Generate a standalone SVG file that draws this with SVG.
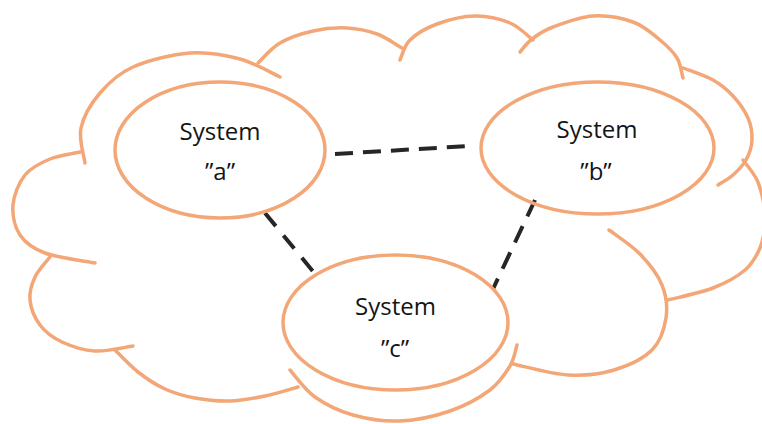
<svg xmlns="http://www.w3.org/2000/svg" width="762" height="424" viewBox="0 0 762 424">
<style>
.cloud{fill:none;stroke:#F3A676;stroke-width:3.5;stroke-linecap:round}
.sys{fill:none;stroke:#F3A676;stroke-width:3.5}
.lbl{font-family:"Open Sans","Liberation Sans",sans-serif;font-size:24px;fill:#141414;text-anchor:middle}
.dash{stroke:#262626;stroke-width:4;fill:none}
</style>
<rect width="762" height="424" fill="#ffffff"/>
<g id="cloud">
<path class="cloud" d="M85,163 C84.3,157.2 78.5,139.7 81,128 C83.5,116.3 91.3,103.2 100,93 C108.7,82.8 118,73.7 133,67 C148,60.3 172.2,54.3 190,53 C207.8,51.7 225,55 240,59 C255,63 273.3,74 280,77"/>
<path class="cloud" d="M258,63 C261.7,59.7 270.8,48.3 280,43 C289.2,37.7 301.8,33.5 313,31 C324.2,28.5 336.3,27.5 347,28 C357.7,28.5 367.8,30.7 377,34 C386.2,37.3 397.8,45.7 402,48"/>
<path class="cloud" d="M400,60 C401.7,56.7 403.8,46 410,40 C416.2,34 426.2,28 437,24 C447.8,20 462.8,16.2 475,16 C487.2,15.8 500.3,19 510,23 C519.7,27 529.2,37.2 533,40"/>
<path class="cloud" d="M520,52 C522,49.8 526.5,43.2 532,39 C537.5,34.8 542.8,30.8 553,27 C563.2,23.2 579.7,16.8 593,16 C606.3,15.2 621.8,18 633,22 C644.2,26 652.7,34 660,40 C667.3,46 673.2,51.7 677,58 C680.8,64.3 682,74.7 683,78"/>
<path class="cloud" d="M683,68 C688,70 704.7,75.3 713,80 C721.3,84.7 727.2,89.7 733,96 C738.8,102.3 744.8,110.7 748,118 C751.2,125.3 752.3,133 752,140 C751.7,147 749.2,154.2 746,160 C742.8,165.8 737.7,170.8 733,175 C728.3,179.2 720.5,183.3 718,185"/>
<path class="cloud" d="M743,160 C745.3,163.3 753.5,172.5 757,180 C760.5,187.5 762.7,197.5 764,205 C765.3,212.5 765.7,217.8 765,225 C764.3,232.2 763.3,240.5 760,248 C756.7,255.5 752.8,263.3 745,270 C737.2,276.7 725.8,283 713,288 C700.2,293 675.5,298 668,300"/>
<path class="cloud" d="M609,230 C614.2,234 631.2,244.8 640,254 C648.8,263.2 657.7,274.3 662,285 C666.3,295.7 667.7,307.2 666,318 C664.3,328.8 660.7,341.3 652,350 C643.3,358.7 628,365.8 614,370 C600,374.2 584.8,376 568,375 C551.2,374 522.2,365.8 513,364"/>
<path class="cloud" d="M517,345 C515.8,348.5 514.5,358.5 510,366 C505.5,373.5 500,382.5 490,390 C480,397.5 465,405.8 450,411 C435,416.2 416.2,420.3 400,421 C383.8,421.7 367.2,419 353,415 C338.8,411 325.5,404.5 315,397 C304.5,389.5 294.2,374.5 290,370"/>
<path class="cloud" d="M298,387 C292.5,388.5 276.3,393.7 265,396 C253.7,398.3 241.7,400.7 230,401 C218.3,401.3 205.8,400 195,398 C184.2,396 174.5,393.3 165,389 C155.5,384.7 146.3,378.5 138,372 C129.7,365.5 118.8,353.7 115,350"/>
<path class="cloud" d="M50,257 C47.5,260.3 38.3,269.8 35,277 C31.7,284.2 29.2,292 30,300 C30.8,308 34.7,318 40,325 C45.3,332 52.8,337.7 62,342 C71.2,346.3 83.2,350.3 95,351 C106.8,351.7 126.7,346.8 133,346"/>
<path class="cloud" d="M80,152 C75,153.2 59.2,155.2 50,159 C40.8,162.8 31.2,167.3 25,175 C18.8,182.7 13.8,195 13,205 C12.2,215 14.7,227 20,235 C25.3,243 32.5,248.3 45,253 C57.5,257.7 86.7,261.3 95,263"/>
</g>
<g id="connectors">
<line class="dash" x1="335" y1="154" x2="469" y2="146" stroke-dasharray="18 10"/>
<line class="dash" x1="265" y1="213" x2="316" y2="275" stroke-dasharray="17 12"/>
<line class="dash" x1="535" y1="200" x2="493" y2="289" stroke-dasharray="18 11"/>
</g>
<g id="system-a">
<ellipse class="sys" cx="220" cy="150" rx="105" ry="68"/>
<text class="lbl" x="220" y="140">System</text>
<text class="lbl" x="220" y="180">”a”</text>
</g>
<g id="system-b">
<ellipse class="sys" cx="597.5" cy="148" rx="116.5" ry="66"/>
<text class="lbl" x="597" y="138">System</text>
<text class="lbl" x="596" y="180">”b”</text>
</g>
<g id="system-c">
<ellipse class="sys" cx="395.5" cy="322.5" rx="112.5" ry="67.5"/>
<text class="lbl" x="395.5" y="315">System</text>
<text class="lbl" x="395" y="357">”c”</text>
</g>
</svg>
